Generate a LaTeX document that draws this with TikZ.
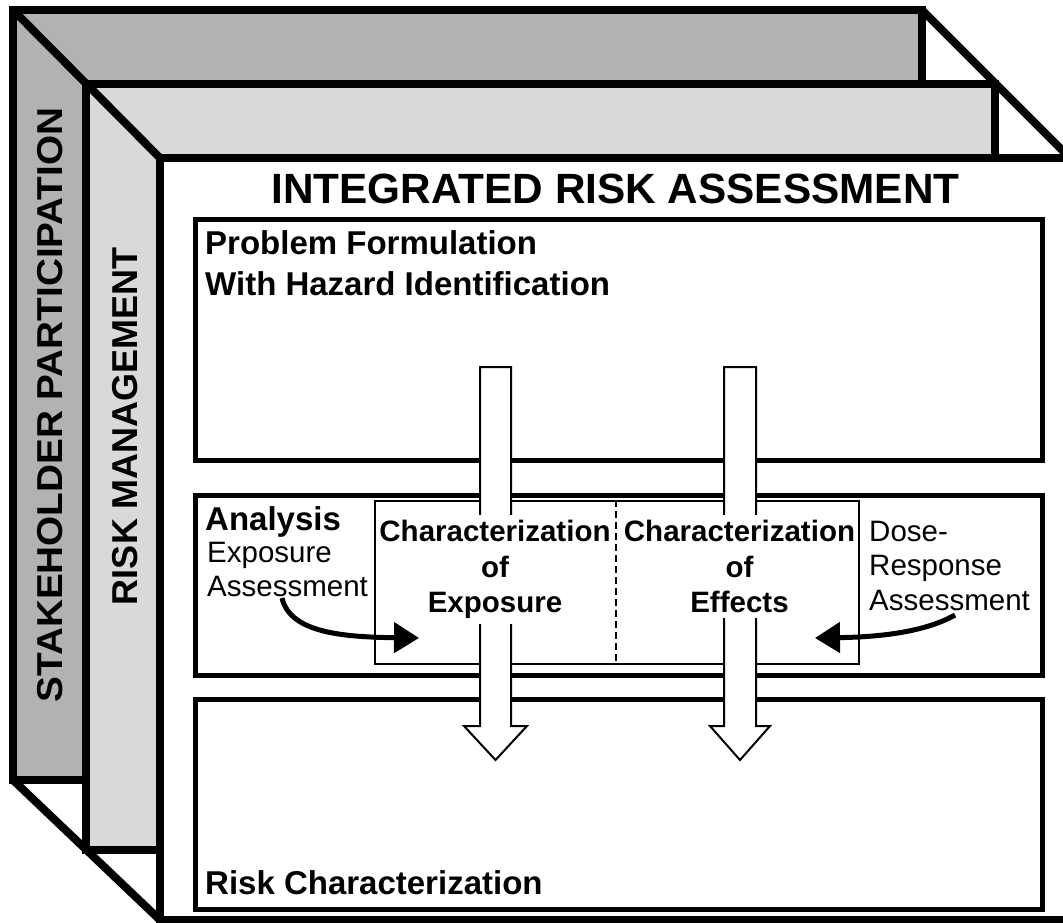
\documentclass[tikz,border=0pt]{standalone}
\usepackage{fontspec}
\setmainfont{Liberation Sans}
\usetikzlibrary{arrows.meta}
\definecolor{darkpanel}{gray}{0.70}
\definecolor{lightpanel}{gray}{0.85}
\begin{document}
\begin{tikzpicture}[x=1pt,y=-1pt,
  frame/.style={draw=black,line width=8pt,line join=miter},
  stagebox/.style={draw=black,line width=4.5pt,anchor=north west,inner sep=0pt,minimum width=847pt},
  thinbox/.style={draw=black,line width=1.5pt},
  blockarrow/.style={draw=black,fill=white,line width=2pt,line join=miter},
  curvedarrow/.style={line width=5pt,-{Triangle[length=25pt,width=30pt]}},
  sidelabel/.style={rotate=90,anchor=base,inner sep=0pt,font=\fontsize{36}{43}\selectfont\bfseries},
  head/.style={inner sep=0pt,anchor=base west,font=\fontsize{33}{40}\selectfont\bfseries},
  plain/.style={inner sep=0pt,align=left,font=\fontsize{29.5}{34.5}\selectfont},
  charlabel/.style={fill=white,inner xsep=2pt,inner ysep=5pt,align=center,font=\fontsize{29.5}{35.5}\selectfont\bfseries}]
\useasboundingbox (0,0) rectangle (1063,923);
\clip (0,0) rectangle (1063,923);

% nested frames
\filldraw[frame,fill=darkpanel] (13,10) rectangle (922,780);
\filldraw[frame,fill=lightpanel] (86,84) rectangle (995,850);
\filldraw[frame,fill=white] (160,158) rectangle (1070,920);
\draw[frame] (13,10) -- (160,158);
\draw[frame] (922,10) -- (1070,158);
\draw[frame] (13,780) -- (160,920);

% side labels
\node[sidelabel,xscale=1.075] (stake) at (62,405) {STAKEHOLDER PARTICIPATION};
\node[sidelabel] (riskman) at (137,426) {RISK MANAGEMENT};

% title
\node[anchor=base,inner sep=0pt,font=\fontsize{42.3}{50}\selectfont\bfseries] (title) at (615.5,203) {INTEGRATED RISK ASSESSMENT};

% stage boxes
\node[stagebox,minimum height=241pt] (problem) at (193,217) {};
\node[stagebox,minimum height=180pt] (analysis) at (193,493) {};
\node[stagebox,minimum height=210pt] (riskchar) at (193,697) {};

% inner characterization box
\node[thinbox,minimum width=484pt,minimum height=163pt,anchor=north west,inner sep=0pt] (inner) at (374,500) {};
\draw[line width=1.5pt,dash pattern=on 7pt off 4pt] (inner.north -| 616,0) -- (inner.south -| 616,0);

% big block arrows
\draw[blockarrow] (480,367) -- (511,367) -- (511,726) -- (527,726) -- (495.5,760) -- (464,726) -- (480,726) -- cycle;
\draw[blockarrow] (724,367) -- (756,367) -- (756,726) -- (770,726) -- (740,760) -- (710,726) -- (724,726) -- cycle;

% headings
\node[head] (pf1) at (205,254) {Problem Formulation};
\node[head] (pf2) at (205,295) {With Hazard Identification};
\node[head] (an) at (205,530) {Analysis};
\node[head] (rc) at (205,894) {Risk Characterization};

% characterization labels
\node[charlabel,anchor=north] (chexp) at (495,515) {Characterization\\of\\Exposure};
\node[charlabel,anchor=north] (cheff) at (739.5,515) {Characterization\\of\\Effects};

% assessment labels
\node[plain,anchor=north west] (expa) at (207,541.5) {Exposure\\Assessment};
\node[plain,anchor=north west] (dra) at (869,520.5) {Dose-\\Response\\Assessment};

% curved arrows
\coordinate (expstart) at (282,598);
\coordinate (expend) at (419,638);
\coordinate (drstart) at (955,615);
\coordinate (drend) at (815,638);
\draw[curvedarrow] (expstart) .. controls (290,632) and (340,637) .. (expend);
\draw[curvedarrow] (drstart) .. controls (925,632) and (880,637) .. (drend);
\end{tikzpicture}
\end{document}
